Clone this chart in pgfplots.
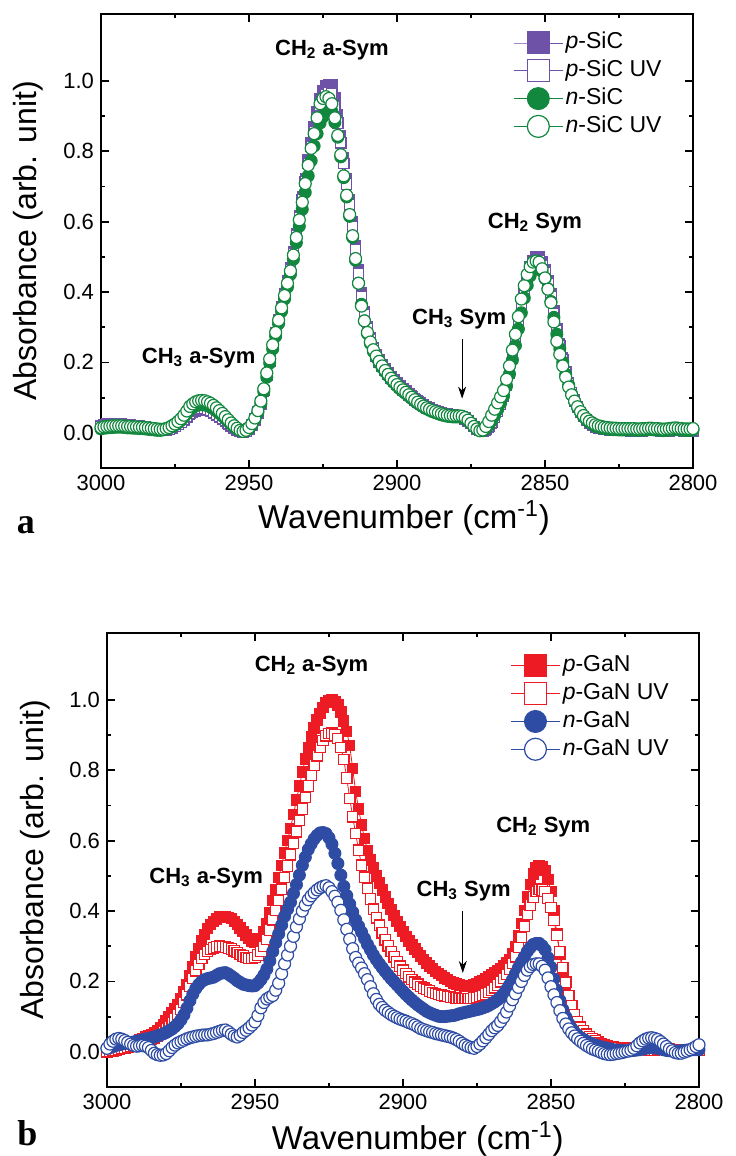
\documentclass[border=0pt]{standalone}
\usepackage{fontspec}
\setmainfont{Liberation Sans}
\newfontfamily\lserif{Liberation Serif}
\usepackage{pgfplots}
\pgfplotsset{compat=1.18}
\usepackage{pgfplotstable}
\usetikzlibrary{arrows.meta}

\definecolor{cpur}{RGB}{110,82,168}
\definecolor{cgrn}{RGB}{18,135,62}
\definecolor{cred}{RGB}{237,28,36}
\definecolor{cblu}{RGB}{46,76,164}

\pgfplotstableread{
x pS pSUV nS nSUV
3000 0.021 0.018 0.011 0.015
2999 0.023 0.020 0.013 0.017
2998 0.025 0.021 0.014 0.018
2997 0.026 0.022 0.015 0.019
2996 0.026 0.023 0.015 0.020
2995 0.026 0.023 0.016 0.020
2994 0.025 0.023 0.016 0.020
2993 0.025 0.022 0.016 0.020
2992 0.024 0.021 0.015 0.019
2991 0.023 0.020 0.014 0.018
2990 0.022 0.020 0.014 0.018
2989 0.021 0.019 0.013 0.017
2988 0.020 0.018 0.013 0.017
2987 0.019 0.017 0.012 0.016
2986 0.018 0.017 0.012 0.016
2985 0.017 0.016 0.011 0.015
2984 0.015 0.014 0.010 0.014
2983 0.013 0.013 0.009 0.013
2982 0.011 0.011 0.008 0.012
2981 0.009 0.010 0.007 0.011
2980 0.008 0.009 0.007 0.010
2979 0.007 0.008 0.008 0.010
2978 0.008 0.009 0.010 0.012
2977 0.010 0.011 0.013 0.015
2976 0.014 0.015 0.017 0.020
2975 0.018 0.019 0.022 0.025
2974 0.023 0.024 0.028 0.032
2973 0.029 0.030 0.035 0.040
2972 0.036 0.038 0.044 0.050
2971 0.044 0.047 0.054 0.062
2970 0.052 0.056 0.065 0.075
2969 0.058 0.061 0.071 0.082
2968 0.062 0.065 0.077 0.088
2967 0.064 0.067 0.079 0.091
2966 0.065 0.068 0.080 0.092
2965 0.065 0.068 0.079 0.091
2964 0.063 0.066 0.077 0.088
2963 0.060 0.063 0.073 0.084
2962 0.056 0.059 0.068 0.078
2961 0.051 0.053 0.062 0.071
2960 0.045 0.047 0.055 0.063
2959 0.039 0.041 0.048 0.055
2958 0.032 0.034 0.040 0.046
2957 0.025 0.027 0.032 0.037
2956 0.018 0.020 0.024 0.028
2955 0.012 0.014 0.017 0.020
2954 0.007 0.009 0.011 0.013
2953 0.003 0.004 0.006 0.007
2952 0.002 0.003 0.004 0.004
2951 0.004 0.005 0.006 0.007
2950 0.010 0.012 0.012 0.015
2949 0.020 0.023 0.022 0.026
2948 0.036 0.039 0.038 0.042
2947 0.056 0.059 0.058 0.063
2946 0.082 0.085 0.083 0.090
2945 0.118 0.120 0.117 0.125
2944 0.162 0.163 0.158 0.170
2943 0.204 0.204 0.198 0.210
2942 0.246 0.245 0.238 0.250
2941 0.283 0.282 0.274 0.285
2940 0.320 0.318 0.310 0.320
2939 0.357 0.355 0.345 0.355
2938 0.395 0.392 0.380 0.390
2937 0.432 0.428 0.414 0.425
2936 0.470 0.465 0.450 0.460
2935 0.515 0.510 0.493 0.505
2934 0.565 0.560 0.540 0.555
2933 0.618 0.611 0.587 0.605
2932 0.670 0.662 0.635 0.655
2931 0.723 0.714 0.683 0.708
2930 0.775 0.765 0.730 0.760
2929 0.825 0.813 0.773 0.808
2928 0.870 0.857 0.815 0.850
2927 0.912 0.897 0.850 0.895
2926 0.950 0.930 0.880 0.935
2925 0.972 0.950 0.898 0.950
2924 0.985 0.962 0.910 0.955
2923 0.990 0.966 0.915 0.950
2922 0.988 0.963 0.913 0.935
2921 0.952 0.927 0.882 0.895
2920 0.903 0.880 0.840 0.845
2919 0.845 0.824 0.784 0.790
2918 0.783 0.765 0.725 0.730
2917 0.723 0.707 0.670 0.675
2916 0.662 0.648 0.615 0.620
2915 0.600 0.587 0.555 0.560
2914 0.533 0.520 0.490 0.495
2913 0.462 0.452 0.425 0.425
2912 0.397 0.388 0.365 0.360
2911 0.343 0.337 0.318 0.318
2910 0.302 0.296 0.282 0.285
2909 0.269 0.264 0.254 0.258
2908 0.243 0.238 0.231 0.236
2907 0.223 0.218 0.213 0.218
2906 0.207 0.202 0.198 0.203
2905 0.194 0.189 0.185 0.190
2904 0.181 0.177 0.173 0.177
2903 0.170 0.166 0.162 0.166
2902 0.159 0.155 0.151 0.155
2901 0.150 0.146 0.142 0.146
2900 0.141 0.137 0.133 0.137
2899 0.133 0.129 0.125 0.129
2898 0.126 0.122 0.118 0.122
2897 0.119 0.115 0.111 0.115
2896 0.112 0.108 0.104 0.108
2895 0.105 0.101 0.097 0.101
2894 0.098 0.094 0.090 0.094
2893 0.091 0.087 0.084 0.087
2892 0.085 0.081 0.078 0.081
2891 0.080 0.076 0.073 0.076
2890 0.075 0.071 0.068 0.071
2889 0.071 0.067 0.064 0.067
2888 0.067 0.063 0.060 0.063
2887 0.064 0.060 0.057 0.060
2886 0.061 0.057 0.054 0.057
2885 0.058 0.054 0.051 0.054
2884 0.055 0.051 0.049 0.052
2883 0.053 0.049 0.047 0.050
2882 0.051 0.047 0.046 0.049
2881 0.050 0.046 0.045 0.048
2880 0.049 0.045 0.045 0.048
2879 0.048 0.045 0.045 0.048
2878 0.046 0.043 0.044 0.047
2877 0.042 0.040 0.040 0.043
2876 0.035 0.034 0.034 0.036
2875 0.026 0.026 0.026 0.027
2874 0.018 0.018 0.018 0.018
2873 0.011 0.011 0.011 0.011
2872 0.006 0.006 0.006 0.006
2871 0.005 0.005 0.006 0.008
2870 0.008 0.009 0.011 0.018
2869 0.016 0.018 0.021 0.032
2868 0.028 0.030 0.034 0.050
2867 0.043 0.045 0.049 0.067
2866 0.060 0.062 0.066 0.085
2865 0.080 0.081 0.084 0.102
2864 0.104 0.104 0.105 0.120
2863 0.135 0.134 0.133 0.152
2862 0.172 0.170 0.167 0.190
2861 0.215 0.212 0.207 0.235
2860 0.260 0.255 0.248 0.280
2859 0.310 0.304 0.295 0.330
2858 0.360 0.353 0.341 0.380
2857 0.405 0.397 0.383 0.418
2856 0.443 0.434 0.419 0.450
2855 0.472 0.462 0.446 0.472
2854 0.490 0.480 0.463 0.485
2853 0.499 0.489 0.471 0.488
2852 0.500 0.490 0.472 0.485
2851 0.486 0.476 0.459 0.466
2850 0.464 0.454 0.438 0.440
2849 0.433 0.424 0.409 0.408
2848 0.395 0.386 0.373 0.370
2847 0.347 0.340 0.328 0.315
2846 0.296 0.290 0.280 0.260
2845 0.252 0.247 0.239 0.223
2844 0.212 0.208 0.201 0.190
2843 0.175 0.172 0.166 0.158
2842 0.142 0.140 0.136 0.130
2841 0.115 0.113 0.110 0.108
2840 0.093 0.091 0.089 0.090
2839 0.074 0.073 0.072 0.074
2838 0.058 0.058 0.058 0.060
2837 0.046 0.046 0.046 0.049
2836 0.036 0.036 0.037 0.040
2835 0.028 0.029 0.030 0.033
2834 0.022 0.023 0.024 0.028
2833 0.017 0.018 0.019 0.023
2832 0.014 0.015 0.016 0.020
2831 0.012 0.013 0.014 0.018
2830 0.010 0.011 0.012 0.016
2829 0.009 0.010 0.011 0.015
2828 0.008 0.009 0.010 0.014
2827 0.007 0.008 0.009 0.013
2826 0.007 0.008 0.009 0.013
2825 0.006 0.007 0.008 0.012
2824 0.006 0.007 0.008 0.012
2823 0.006 0.007 0.008 0.012
2822 0.006 0.007 0.008 0.012
2821 0.005 0.006 0.008 0.012
2820 0.005 0.006 0.008 0.012
2819 0.005 0.006 0.007 0.011
2818 0.005 0.006 0.007 0.011
2817 0.005 0.006 0.008 0.012
2816 0.006 0.007 0.008 0.012
2815 0.006 0.007 0.009 0.013
2814 0.007 0.008 0.009 0.013
2813 0.006 0.007 0.008 0.012
2812 0.006 0.007 0.008 0.012
2811 0.005 0.006 0.007 0.011
2810 0.004 0.005 0.006 0.010
2809 0.004 0.005 0.007 0.011
2808 0.005 0.006 0.008 0.012
2807 0.006 0.007 0.008 0.013
2806 0.007 0.008 0.009 0.014
2805 0.006 0.007 0.009 0.013
2804 0.006 0.007 0.008 0.012
2803 0.005 0.006 0.007 0.011
2802 0.005 0.006 0.007 0.011
2801 0.005 0.006 0.007 0.011
2800 0.005 0.006 0.008 0.012
}\dataA

\pgfplotstableread{
x pG pGUV nG nGUV
3000 0.000 0.000 0.010 0.010
2999 0.002 0.001 0.012 0.022
2998 0.005 0.003 0.015 0.030
2997 0.007 0.005 0.018 0.036
2996 0.010 0.007 0.020 0.038
2995 0.012 0.009 0.022 0.036
2994 0.015 0.011 0.024 0.032
2993 0.017 0.013 0.025 0.027
2992 0.020 0.015 0.026 0.022
2991 0.025 0.017 0.028 0.018
2990 0.030 0.020 0.030 0.016
2989 0.034 0.023 0.032 0.017
2988 0.038 0.026 0.034 0.018
2987 0.042 0.029 0.036 0.016
2986 0.046 0.032 0.038 0.012
2985 0.050 0.036 0.040 0.004
2984 0.055 0.040 0.042 -0.004
2983 0.061 0.045 0.045 -0.008
2982 0.068 0.050 0.048 -0.010
2981 0.077 0.057 0.051 -0.009
2980 0.088 0.065 0.055 -0.005
2979 0.099 0.073 0.060 0.003
2978 0.110 0.082 0.065 0.012
2977 0.122 0.093 0.072 0.019
2976 0.135 0.105 0.080 0.025
2975 0.151 0.121 0.091 0.029
2974 0.170 0.140 0.105 0.033
2973 0.191 0.162 0.124 0.037
2972 0.215 0.185 0.145 0.040
2971 0.242 0.208 0.164 0.042
2970 0.270 0.230 0.180 0.044
2969 0.293 0.249 0.191 0.046
2968 0.315 0.265 0.200 0.047
2967 0.334 0.276 0.205 0.048
2966 0.350 0.285 0.208 0.048
2965 0.361 0.291 0.210 0.050
2964 0.370 0.295 0.212 0.052
2963 0.377 0.298 0.217 0.055
2962 0.383 0.300 0.222 0.058
2961 0.385 0.299 0.224 0.061
2960 0.385 0.298 0.225 0.062
2959 0.382 0.295 0.221 0.057
2958 0.378 0.292 0.215 0.050
2957 0.371 0.287 0.209 0.045
2956 0.362 0.282 0.202 0.042
2955 0.352 0.277 0.197 0.047
2954 0.342 0.272 0.192 0.055
2953 0.332 0.268 0.190 0.061
2952 0.322 0.265 0.188 0.068
2951 0.315 0.265 0.187 0.076
2950 0.312 0.268 0.188 0.085
2949 0.314 0.275 0.195 0.103
2948 0.322 0.285 0.205 0.125
2947 0.340 0.300 0.218 0.140
2946 0.365 0.320 0.235 0.150
2945 0.396 0.346 0.258 0.155
2944 0.430 0.375 0.285 0.160
2943 0.462 0.402 0.310 0.175
2942 0.495 0.430 0.335 0.195
2941 0.530 0.462 0.360 0.222
2940 0.565 0.495 0.385 0.250
2939 0.600 0.528 0.405 0.275
2938 0.635 0.560 0.425 0.300
2937 0.675 0.592 0.450 0.328
2936 0.715 0.625 0.475 0.355
2935 0.755 0.658 0.502 0.378
2934 0.795 0.690 0.530 0.400
2933 0.832 0.723 0.553 0.417
2932 0.865 0.755 0.575 0.432
2931 0.895 0.786 0.591 0.443
2930 0.920 0.815 0.605 0.452
2929 0.943 0.841 0.615 0.460
2928 0.962 0.865 0.622 0.466
2927 0.979 0.884 0.623 0.470
2926 0.992 0.898 0.620 0.472
2925 0.998 0.904 0.608 0.466
2924 1.000 0.905 0.590 0.455
2923 0.995 0.900 0.564 0.442
2922 0.985 0.890 0.535 0.425
2921 0.965 0.865 0.502 0.402
2920 0.940 0.830 0.470 0.375
2919 0.910 0.778 0.444 0.348
2918 0.870 0.720 0.420 0.320
2917 0.805 0.668 0.397 0.293
2916 0.740 0.620 0.375 0.268
2915 0.690 0.573 0.357 0.252
2914 0.645 0.530 0.340 0.238
2913 0.606 0.496 0.322 0.222
2912 0.572 0.465 0.305 0.205
2911 0.545 0.434 0.290 0.185
2910 0.522 0.405 0.275 0.165
2909 0.500 0.381 0.262 0.149
2908 0.480 0.360 0.250 0.135
2907 0.460 0.338 0.239 0.126
2906 0.440 0.318 0.228 0.118
2905 0.422 0.301 0.218 0.112
2904 0.405 0.285 0.208 0.106
2903 0.387 0.270 0.199 0.101
2902 0.370 0.255 0.190 0.097
2901 0.356 0.243 0.181 0.093
2900 0.342 0.232 0.172 0.090
2899 0.328 0.222 0.163 0.087
2898 0.315 0.213 0.155 0.083
2897 0.303 0.205 0.147 0.080
2896 0.292 0.198 0.140 0.076
2895 0.282 0.192 0.133 0.071
2894 0.272 0.186 0.127 0.066
2893 0.262 0.181 0.121 0.063
2892 0.252 0.177 0.115 0.060
2891 0.244 0.173 0.111 0.057
2890 0.237 0.169 0.107 0.055
2889 0.229 0.166 0.104 0.052
2888 0.222 0.163 0.101 0.050
2887 0.216 0.161 0.100 0.048
2886 0.210 0.159 0.100 0.046
2885 0.205 0.157 0.101 0.044
2884 0.200 0.156 0.102 0.042
2883 0.196 0.154 0.103 0.039
2882 0.193 0.153 0.105 0.035
2881 0.190 0.152 0.108 0.030
2880 0.188 0.151 0.110 0.024
2879 0.187 0.151 0.112 0.019
2878 0.187 0.151 0.114 0.015
2877 0.189 0.152 0.116 0.012
2876 0.191 0.153 0.118 0.010
2875 0.194 0.155 0.120 0.015
2874 0.198 0.157 0.122 0.022
2873 0.202 0.160 0.125 0.031
2872 0.207 0.164 0.128 0.040
2871 0.212 0.169 0.132 0.050
2870 0.218 0.175 0.137 0.060
2869 0.224 0.182 0.142 0.068
2868 0.230 0.190 0.148 0.075
2867 0.237 0.199 0.156 0.086
2866 0.244 0.208 0.165 0.098
2865 0.252 0.220 0.177 0.113
2864 0.262 0.235 0.190 0.130
2863 0.278 0.251 0.205 0.148
2862 0.300 0.270 0.222 0.165
2861 0.330 0.296 0.239 0.183
2860 0.365 0.325 0.255 0.200
2859 0.402 0.357 0.270 0.217
2858 0.440 0.390 0.285 0.232
2857 0.475 0.417 0.296 0.242
2856 0.505 0.440 0.305 0.248
2855 0.522 0.455 0.308 0.250
2854 0.530 0.462 0.308 0.250
2853 0.525 0.460 0.301 0.243
2852 0.515 0.455 0.290 0.232
2851 0.490 0.436 0.267 0.210
2850 0.455 0.410 0.240 0.185
2849 0.400 0.373 0.207 0.162
2848 0.335 0.330 0.175 0.140
2847 0.276 0.285 0.146 0.117
2846 0.220 0.240 0.120 0.095
2845 0.176 0.198 0.099 0.079
2844 0.140 0.160 0.080 0.065
2843 0.113 0.130 0.066 0.054
2842 0.090 0.105 0.055 0.045
2841 0.076 0.086 0.047 0.037
2840 0.065 0.070 0.040 0.030
2839 0.057 0.059 0.035 0.024
2838 0.050 0.050 0.030 0.018
2837 0.044 0.043 0.026 0.013
2836 0.038 0.037 0.022 0.008
2835 0.033 0.032 0.019 0.005
2834 0.028 0.027 0.016 0.002
2833 0.024 0.023 0.014 -0.002
2832 0.020 0.020 0.012 -0.005
2831 0.017 0.017 0.010 -0.007
2830 0.015 0.015 0.008 -0.008
2829 0.013 0.013 0.006 -0.007
2828 0.012 0.012 0.005 -0.005
2827 0.011 0.011 0.004 -0.004
2826 0.010 0.010 0.004 -0.002
2825 0.010 0.010 0.003 0.000
2824 0.010 0.009 0.003 0.002
2823 0.010 0.009 0.003 0.005
2822 0.010 0.009 0.004 0.010
2821 0.009 0.009 0.005 0.017
2820 0.008 0.008 0.006 0.025
2819 0.007 0.007 0.008 0.031
2818 0.006 0.006 0.010 0.036
2817 0.005 0.005 0.011 0.039
2816 0.005 0.005 0.012 0.040
2815 0.005 0.005 0.011 0.038
2814 0.006 0.006 0.010 0.035
2813 0.007 0.007 0.008 0.029
2812 0.008 0.007 0.006 0.022
2811 0.008 0.007 0.004 0.015
2810 0.008 0.007 0.003 0.008
2809 0.007 0.007 0.002 0.003
2808 0.006 0.006 0.002 -0.002
2807 0.005 0.005 0.002 -0.004
2806 0.005 0.005 0.003 -0.004
2805 0.004 0.004 0.004 -0.001
2804 0.004 0.004 0.005 0.002
2803 0.004 0.004 0.005 0.006
2802 0.004 0.004 0.006 0.010
2801 0.004 0.005 0.006 0.015
2800 0.005 0.005 0.006 0.020
}\dataB

\tikzset{ann/.style={font=\bfseries\fontsize{11}{13}\selectfont}}

\pgfplotsset{
  myaxis/.style={
    scale only axis, width=296pt, height=227pt,
    x dir=reverse, xmin=2800, xmax=3000, ymin=-0.1, ymax=1.19,
    xtick={2800,2850,2900,2950,3000},
    ytick={0,0.2,0.4,0.6,0.8,1.0},
    minor x tick num=1, minor y tick num=1,
    tick align=inside, major tick length=4pt, minor tick length=2.2pt,
    axis line style={line width=1pt},
    every tick/.style={line width=0.9pt, black},
    /pgf/number format/assume math mode=true,
    xticklabel style={/pgf/number format/1000 sep={}},
    yticklabel style={/pgf/number format/.cd, fixed, fixed zerofill, precision=1},
    tick label style={font=\fontsize{11}{13}\selectfont},
    xlabel style={font=\fontsize{16.5}{19}\selectfont},
    ylabel style={font=\fontsize{16}{19}\selectfont},
    xlabel={Wavenumber (cm\textsuperscript{-1})},
    ylabel={Absorbance (arb. unit)},
    legend cell align=left,
    legend image code/.code={\draw[mark repeat=2,mark phase=2,##1,mark size=5.5pt] plot coordinates {(0pt,0pt)(12.25pt,0pt)(24.5pt,0pt)};},
    legend style={draw=none, fill=none, inner sep=0pt, row sep=0.5pt,
      font=\fontsize{11.5}{13}\selectfont,
      nodes={inner sep=1.2pt, text height=8.5pt, text depth=2.5pt}},
  },
  sqf/.style={color=#1, line width=0.4pt, mark=square*, mark size=2.6pt, mark options={fill=#1, line width=0.5pt}},
  sqo/.style={color=#1, line width=0.4pt, mark=square*, mark size=2.6pt, mark options={fill=white, line width=0.6pt}},
  cif/.style={color=#1, line width=0.4pt, mark=*, mark size=3pt, mark options={fill=#1, line width=0.5pt}},
  cio/.style={color=#1, line width=0.4pt, mark=*, mark size=3pt, mark options={fill=white, line width=0.6pt}},
}

\begin{document}
\begin{tikzpicture}
\path[use as bounding box] (0,0) rectangle (367.5pt,578pt);

\begin{axis}[myaxis, at={(50.5pt,344pt)}, anchor=south west,
  xlabel style={at={(axis description cs:0.512,-0.110)}, anchor=center},
  ylabel style={at={(axis description cs:-0.1233,0.5)}, anchor=center},
  legend style={at={(axis description cs:0.696,0.9665)}, anchor=north west}]
\addplot[sqf=cpur] table[x=x,y=pS]{\dataA};
\addlegendentry{\textit{p}-SiC}
\addplot[sqo=cpur] table[x=x,y=pSUV]{\dataA};
\addlegendentry{\textit{p}-SiC UV}
\addplot[cif=cgrn] table[x=x,y=nS]{\dataA};
\addlegendentry{\textit{n}-SiC}
\addplot[cio=cgrn] table[x=x,y=nSUV]{\dataA};
\addlegendentry{\textit{n}-SiC UV}
\node[ann] at (axis cs:2922,1.088) {CH\textsubscript{2} a-Sym};
\node[ann] at (axis cs:2853.4,0.597) {CH\textsubscript{2} Sym};
\node[ann] at (axis cs:2879,0.324) {CH\textsubscript{3} Sym};
\node[ann] at (axis cs:2967,0.213) {CH\textsubscript{3} a-Sym};
\draw[-{Stealth[length=6pt,width=4pt]}, line width=0.5pt] (axis cs:2878,0.267) -- (axis cs:2878,0.097);
\end{axis}

\begin{axis}[myaxis, at={(53.5pt,34.5pt)}, anchor=south west,
  xlabel style={at={(axis description cs:0.525,-0.1145)}, anchor=center},
  ylabel style={at={(axis description cs:-0.121,0.5)}, anchor=center},
  legend style={at={(axis description cs:0.681,0.958)}, anchor=north west}]
\addplot[sqf=cred] table[x=x,y=pG]{\dataB};
\addlegendentry{\textit{p}-GaN}
\addplot[sqo=cred] table[x=x,y=pGUV]{\dataB};
\addlegendentry{\textit{p}-GaN UV}
\addplot[cif=cblu] table[x=x,y=nG]{\dataB};
\addlegendentry{\textit{n}-GaN}
\addplot[cio=cblu] table[x=x,y=nGUV]{\dataB};
\addlegendentry{\textit{n}-GaN UV}
\node[ann] at (axis cs:2930.9,1.097) {CH\textsubscript{2} a-Sym};
\node[ann] at (axis cs:2852.6,0.639) {CH\textsubscript{2} Sym};
\node[ann] at (axis cs:2879.5,0.457) {CH\textsubscript{3} Sym};
\node[ann] at (axis cs:2966.5,0.494) {CH\textsubscript{3} a-Sym};
\draw[-{Stealth[length=6pt,width=4pt]}, line width=0.5pt] (axis cs:2879.8,0.40) -- (axis cs:2879.8,0.224);
\end{axis}

\node[font=\lserif\bfseries\fontsize{18}{20}\selectfont] at (13pt,315.5pt) {a};
\node[font=\lserif\bfseries\fontsize{18}{20}\selectfont] at (13.75pt,11.25pt) {b};
\end{tikzpicture}
\end{document}
